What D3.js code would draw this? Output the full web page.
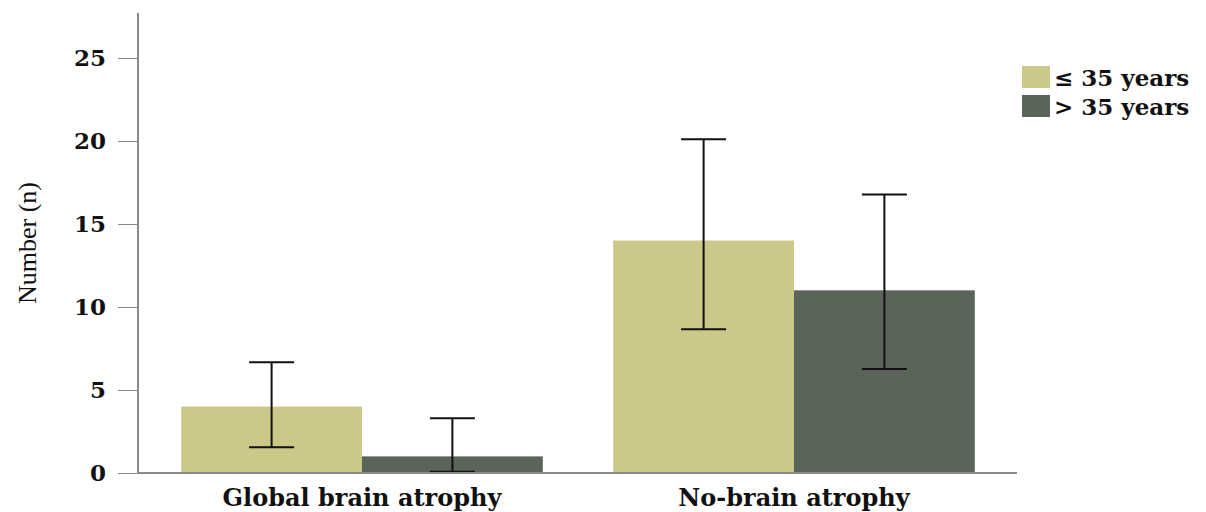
<html lang="en">
<head>
<meta charset="utf-8">
<title>Brain atrophy by age</title>
<style>
    body { margin: 0; padding: 0; background-color: white; }
    svg { background-color: white; display: block; }
    .axis text { font-family: "DejaVu Serif", serif; font-weight: bold; fill: #111; }
    .axis path, .axis line { stroke: #8a8a8a; shape-rendering: crispEdges; }
    .legend text { font-family: "DejaVu Serif", serif; font-weight: bold; font-size: 23px; fill: #111; }
    .ylabel { font-family: "Liberation Serif", serif; font-size: 26px; fill: #111; }
    .err line { stroke: #111; stroke-width: 2px; }
</style>
</head>
<body>
<div id="chart"></div>
<script src="https://d3js.org/d3.v7.min.js"></script>
<script>

var categories = ["Global brain atrophy", "No-brain atrophy"];
var groups = ["\u2264 35 years", "> 35 years"];
var colors = ["#cbc889", "#5b6459"];

// counts per category, one array per age group
var young = [4, 14];
var old = [1, 11];
// error bar ends
var youngLow = [1.55, 8.66];
var youngHigh = [6.67, 20.1];
var oldLow = [0.08, 6.27];
var oldHigh = [3.3, 16.77];

var yTicks = [0, 5, 10, 15, 20, 25];

var width = 1206, height = 512;

var svg = d3.select("#chart").append("svg")
    .attr("width", width)
    .attr("height", height);

var y = d3.scaleLinear().domain([0, 27.7]).range([473, 13]);

var x0 = d3.scaleBand().domain(categories).range([138, 1018])
    .paddingInner(0.163).paddingOuter(0.1);

var x1 = d3.scaleBand().domain(groups).range([0, x0.bandwidth()]);

var rows = [];
categories.forEach(function(c, i) {
    rows.push({cat: c, grp: groups[0], v: young[i], lo: youngLow[i], hi: youngHigh[i], col: colors[0]});
    rows.push({cat: c, grp: groups[1], v: old[i], lo: oldLow[i], hi: oldHigh[i], col: colors[1]});
});

svg.append("g").selectAll("rect")
    .data(rows)
    .enter().append("rect")
    .attr("x", function(d) { return x0(d.cat) + x1(d.grp); })
    .attr("width", x1.bandwidth())
    .attr("y", function(d) { return y(d.v); })
    .attr("height", function(d) { return y(0) - y(d.v); })
    .attr("fill", function(d) { return d.col; });

// error bars
var capW = 45;
var eb = svg.append("g").attr("class", "err").selectAll("g")
    .data(rows)
    .enter().append("g")
    .attr("transform", function(d) {
        return "translate(" + (x0(d.cat) + x1(d.grp) + x1.bandwidth() / 2) + ",0)";
    });
eb.append("line")
    .attr("x1", 0).attr("x2", 0)
    .attr("y1", function(d) { return y(d.lo); })
    .attr("y2", function(d) { return y(d.hi); });
eb.append("line")
    .attr("x1", -capW / 2).attr("x2", capW / 2)
    .attr("y1", function(d) { return y(d.hi); })
    .attr("y2", function(d) { return y(d.hi); });
eb.append("line")
    .attr("x1", -capW / 2).attr("x2", capW / 2)
    .attr("y1", function(d) { return y(d.lo); })
    .attr("y2", function(d) { return y(d.lo); });

// axes
var yAxis = svg.append("g")
    .attr("class", "axis")
    .attr("transform", "translate(138,0)")
    .call(d3.axisLeft(y).tickValues(yTicks).tickSize(20).tickPadding(12));
yAxis.select(".domain").attr("d", "M0,13V473").style("stroke-width", 2);
yAxis.selectAll("text").style("font-size", "23px");

var xAxis = svg.append("g")
    .attr("class", "axis")
    .attr("transform", "translate(0,473)")
    .call(d3.axisBottom(x0).tickSize(0).tickPadding(16));
xAxis.select(".domain").attr("d", "M138,0H1017").style("stroke-width", 2);
xAxis.selectAll("text").style("font-size", "24px");

svg.append("text")
    .attr("class", "ylabel")
    .attr("transform", "translate(36,243) rotate(-90)")
    .attr("text-anchor", "middle")
    .text("Number (n)");

// legend
var legend = svg.append("g").attr("class", "legend")
    .attr("transform", "translate(1022,66)")
    .selectAll("g")
    .data(groups)
    .enter().append("g")
    .attr("transform", function(d, i) { return "translate(0," + (i * 29) + ")"; });
legend.append("rect")
    .attr("width", 28).attr("height", 22)
    .attr("fill", function(d, i) { return colors[i]; });
legend.append("text")
    .attr("x", 32).attr("y", 20)
    .text(function(d) { return d; });

</script>
</body>
</html>
